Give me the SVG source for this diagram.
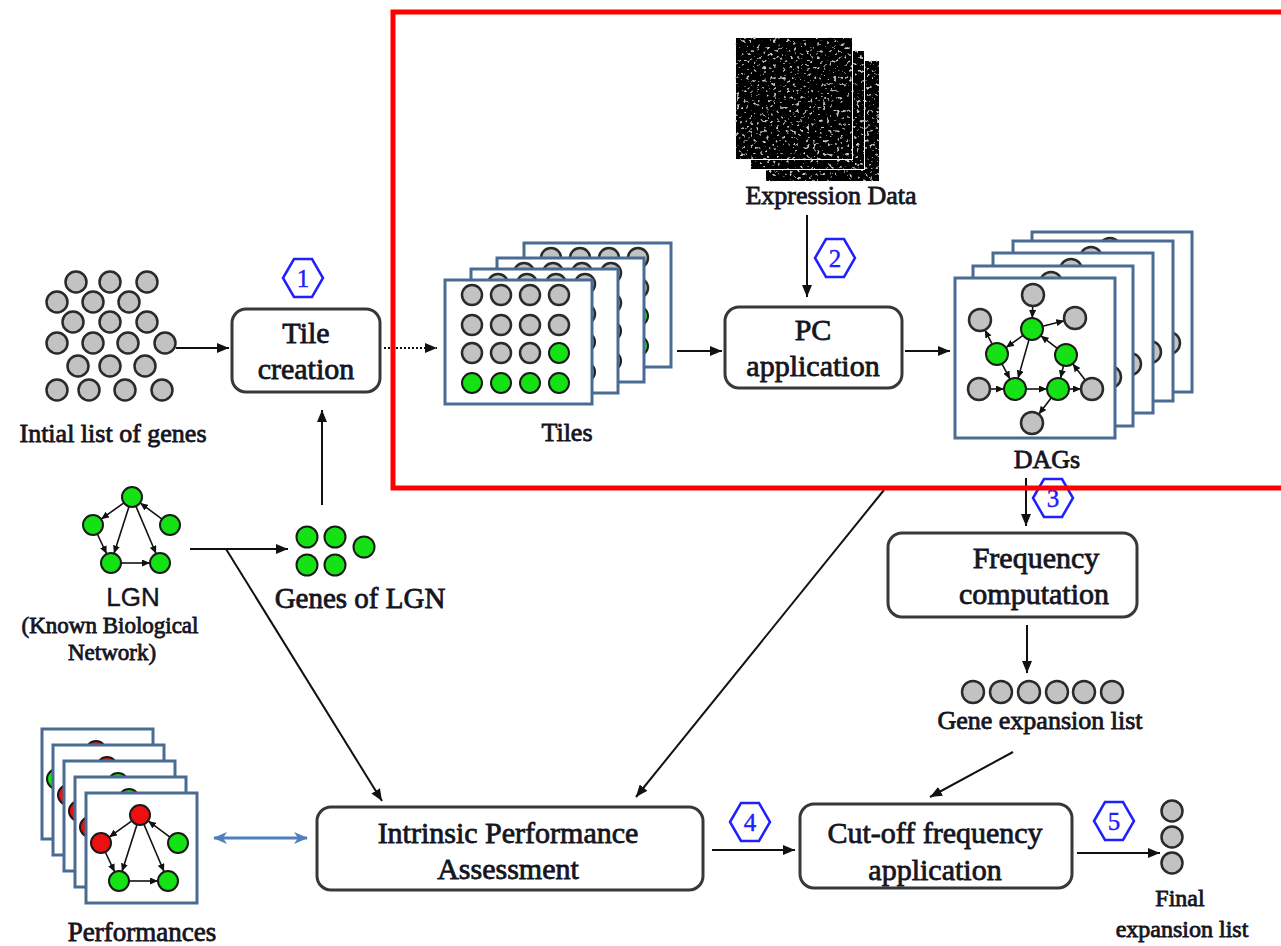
<svg xmlns="http://www.w3.org/2000/svg" xmlns:xlink="http://www.w3.org/1999/xlink" width="1281" height="946" viewBox="0 0 1281 946">
  <style>
    .box { fill:#fff; stroke:#383838; stroke-width:3; }
    .t { font-family:'Liberation Serif', Tinos, 'Times New Roman', 'DejaVu Serif', serif; fill:#15151f; stroke:#15151f; stroke-width:0.8; text-anchor:middle; }
    .bt { font-size:30px; }
    .lb { font-size:26px; }
    .sm { font-size:24px; }
    .sans { font-family:'Liberation Sans', Arial, sans-serif; stroke-width:0.4; }
    .g { fill:#c2c2c2; stroke:#2a2a2a; stroke-width:2.5; }
    .gr { fill:#14e214; stroke:#1a1a1a; stroke-width:2; }
    .rd { fill:#ee1010; stroke:#1a1a1a; stroke-width:2; }
    .hex { fill:#fff; stroke:#1f1fff; stroke-width:2.5; }
    .hn { font-family:'Liberation Serif', Tinos, 'Times New Roman', 'DejaVu Serif', serif; font-size:25px; fill:#2020ff; stroke:#2020ff; stroke-width:0.4; text-anchor:middle; }
    .tile { fill:#fff; stroke:#4a6b94; stroke-width:3; }
    .cn { stroke:#111; stroke-width:2; fill:none; }
    .ed { stroke:#111; stroke-width:1.6; fill:none; marker-end:url(#tip); }
    .dot { stroke-dasharray:2 2; }
    .blue { stroke:#4f7fbd; stroke-width:3; fill:none; }
  </style>
  <defs>
    <marker id="arr" viewBox="0 0 12 10" refX="12" refY="5" markerWidth="12" markerHeight="10" markerUnits="userSpaceOnUse" orient="auto">
      <path d="M0,0 L12,5 L0,10 z" fill="#111"/>
    </marker>
    <marker id="tip" viewBox="0 0 8 7" refX="8" refY="3.5" markerWidth="8" markerHeight="7" markerUnits="userSpaceOnUse" orient="auto">
      <path d="M0,0 L8,3.5 L0,7 z" fill="#111"/>
    </marker>
    <marker id="barr" viewBox="0 0 14 12" refX="13" refY="6" markerWidth="14" markerHeight="12" markerUnits="userSpaceOnUse" orient="auto-start-reverse">
      <path d="M0,0 L14,6 L0,12 L4,6 z" fill="#4f7fbd"/>
    </marker>
    <path id="hexagon" d="M-20,0 L-9,-19 L9,-19 L20,0 L9,19 L-9,19 z"/>
    <filter id="speckle" x="0" y="0" width="100%" height="100%">
      <feTurbulence type="fractalNoise" baseFrequency="0.3" numOctaves="2" seed="11" result="n"/>
      <feColorMatrix in="n" type="matrix" values="0 0 0 0 0.62  0 0 0 0 0.62  0 0 0 0 0.62  7 0 0 0 -4.4" result="dots"/>
      <feComposite in="dots" in2="SourceGraphic" operator="atop"/>
    </filter>
    <!-- one tile of genes: 4x4 grid, bottom rows in green -->
    <g id="tile">
      <rect class="tile" x="0" y="0" width="147" height="124"/>
      <circle class="g" cx="27" cy="15" r="10"/><circle class="g" cx="56" cy="15" r="10"/><circle class="g" cx="85" cy="15" r="10"/><circle class="g" cx="114" cy="15" r="10"/>
      <circle class="g" cx="27" cy="45" r="10"/><circle class="g" cx="56" cy="45" r="10"/><circle class="g" cx="85" cy="45" r="10"/><circle class="g" cx="114" cy="45" r="10"/>
      <circle class="g" cx="27" cy="73" r="10"/><circle class="g" cx="56" cy="73" r="10"/><circle class="g" cx="85" cy="73" r="10"/><circle class="gr" cx="114" cy="73" r="10"/>
      <circle class="gr" cx="27" cy="103" r="10"/><circle class="gr" cx="56" cy="103" r="10"/><circle class="gr" cx="85" cy="103" r="10"/><circle class="gr" cx="114" cy="103" r="10"/>
    </g>
    <!-- one learned DAG inside its frame -->
    <g id="dag">
      <rect class="tile" x="955" y="278" width="160" height="160"/>
      <line class="ed" x1="1032.7" y1="306" x2="1032.3" y2="318"/>
      <line class="ed" x1="1042.7" y1="326.3" x2="1064.3" y2="320.7"/>
      <line class="ed" x1="1023" y1="335.4" x2="1006" y2="347.6"/>
      <line class="ed" x1="992.1" y1="344.2" x2="984.9" y2="329.8"/>
      <line class="ed" x1="1029" y1="339.6" x2="1018" y2="378.4"/>
      <line class="ed" x1="1002" y1="363.8" x2="1010" y2="379.2"/>
      <line class="ed" x1="1057.3" y1="348.3" x2="1040.7" y2="335.7"/>
      <line class="ed" x1="990" y1="389" x2="1004" y2="389"/>
      <line class="ed" x1="1026" y1="389" x2="1047" y2="389"/>
      <line class="ed" x1="1069" y1="389" x2="1081" y2="389"/>
      <line class="ed" x1="1085.3" y1="380.3" x2="1072.7" y2="363.7"/>
      <line class="ed" x1="1063.5" y1="365.7" x2="1060.5" y2="378.3"/>
      <line class="ed" x1="1051.3" y1="397.7" x2="1038.7" y2="414.3"/>
      <circle class="g" cx="1033" cy="295" r="11"/>
      <circle class="g" cx="980" cy="320" r="11"/>
      <circle class="gr" cx="1032" cy="329" r="11"/>
      <circle class="g" cx="1075" cy="318" r="11"/>
      <circle class="gr" cx="997" cy="354" r="11"/>
      <circle class="gr" cx="1066" cy="355" r="11"/>
      <circle class="g" cx="979" cy="389" r="11"/>
      <circle class="gr" cx="1015" cy="389" r="11"/>
      <circle class="gr" cx="1058" cy="389" r="11"/>
      <circle class="g" cx="1092" cy="389" r="11"/>
      <circle class="g" cx="1032" cy="423" r="11"/>
    </g>
    <!-- edges of the small five-gene network -->
    <g id="net-edges">
      <line class="ed" x1="123.9" y1="502.8" x2="101.1" y2="519.2"/>
      <line class="ed" x1="162" y1="519.1" x2="140.1" y2="502.9"/>
      <line class="ed" x1="129" y1="506.5" x2="114" y2="553.5"/>
      <line class="ed" x1="135.9" y1="506.2" x2="156.1" y2="553.8"/>
      <line class="ed" x1="97.3" y1="534" x2="106.7" y2="554"/>
      <line class="ed" x1="121" y1="563" x2="150" y2="563"/>
    </g>
  </defs>

  <rect width="1281" height="946" fill="#fff"/>

  <!-- connectors -->
  <g id="connectors">
    <line class="cn" x1="176" y1="348" x2="229" y2="348" marker-end="url(#arr)"/>
    <line class="cn dot" x1="384" y1="348" x2="437" y2="348" marker-end="url(#arr)"/>
    <line class="cn" x1="677" y1="351" x2="722" y2="351" marker-end="url(#arr)"/>
    <line class="cn" x1="905" y1="351" x2="950" y2="351" marker-end="url(#arr)"/>
    <line class="cn" x1="807" y1="215" x2="807" y2="297" marker-end="url(#arr)"/>
    <line class="cn" x1="322" y1="505" x2="322" y2="410" marker-end="url(#arr)"/>
    <line class="cn" x1="190" y1="549" x2="288" y2="549" marker-end="url(#arr)"/>
    <line class="cn" x1="226" y1="549" x2="382" y2="801" marker-end="url(#arr)"/>
    <line class="cn" x1="884" y1="490" x2="636" y2="797" marker-end="url(#arr)"/>
    <line class="cn" x1="1026" y1="478" x2="1026" y2="526" marker-end="url(#arr)"/>
    <line class="cn" x1="1027" y1="625" x2="1027" y2="673" marker-end="url(#arr)"/>
    <line class="cn" x1="1013" y1="752" x2="930" y2="797" marker-end="url(#arr)"/>
    <line class="cn" x1="712" y1="850" x2="795" y2="850" marker-end="url(#arr)"/>
    <line class="cn" x1="1077" y1="853" x2="1160" y2="853" marker-end="url(#arr)"/>
    <line class="blue" x1="214" y1="838" x2="307" y2="838" marker-start="url(#barr)" marker-end="url(#barr)"/>
  </g>

  <!-- initial list of genes -->
  <g id="initial-genes">
    <circle class="g" cx="76" cy="282" r="10.5"/><circle class="g" cx="110" cy="282" r="10.5"/><circle class="g" cx="147" cy="282" r="10.5"/>
    <circle class="g" cx="57" cy="302" r="10.5"/><circle class="g" cx="93" cy="302" r="10.5"/><circle class="g" cx="129" cy="302" r="10.5"/>
    <circle class="g" cx="73" cy="322" r="10.5"/><circle class="g" cx="110" cy="322" r="10.5"/><circle class="g" cx="147" cy="322" r="10.5"/>
    <circle class="g" cx="57" cy="343" r="10.5"/><circle class="g" cx="93" cy="343" r="10.5"/><circle class="g" cx="128" cy="343" r="10.5"/><circle class="g" cx="165" cy="343" r="10.5"/>
    <circle class="g" cx="78" cy="366" r="10.5"/><circle class="g" cx="110" cy="366" r="10.5"/><circle class="g" cx="145" cy="366" r="10.5"/>
    <circle class="g" cx="57" cy="390" r="10.5"/><circle class="g" cx="89" cy="390" r="10.5"/><circle class="g" cx="125" cy="390" r="10.5"/><circle class="g" cx="162" cy="390" r="10.5"/>
    <text class="t lb" x="113" y="442">Intial list of genes</text>
  </g>

  <!-- step 1: tile creation -->
  <g id="tile-creation">
    <rect class="box" x="232" y="309" width="148" height="83" rx="14"/>
    <text class="t bt" x="306" y="343">Tile</text>
    <text class="t bt" x="306" y="379">creation</text>
  </g>
  <g id="step1">
    <use xlink:href="#hexagon" class="hex" x="303" y="278"/>
    <text class="hn" x="303" y="287">1</text>
  </g>

  <!-- known network (LGN) -->
  <g id="lgn">
    <use xlink:href="#net-edges"/>
    <circle class="gr" cx="132" cy="497" r="10"/>
    <circle class="gr" cx="93" cy="525" r="10"/>
    <circle class="gr" cx="170" cy="525" r="10"/>
    <circle class="gr" cx="111" cy="563" r="10"/>
    <circle class="gr" cx="160" cy="563" r="10"/>
    <text class="t sans" x="133" y="606" font-size="26">LGN</text>
    <text class="t" x="110" y="633" font-size="23">(Known Biological</text>
    <text class="t" x="112" y="660" font-size="23">Network)</text>
  </g>

  <!-- genes of the LGN -->
  <g id="lgn-genes">
    <circle class="gr" cx="307" cy="537" r="10.5"/>
    <circle class="gr" cx="335" cy="537" r="10.5"/>
    <circle class="gr" cx="364" cy="547" r="10.5"/>
    <circle class="gr" cx="307" cy="565" r="10.5"/>
    <circle class="gr" cx="335" cy="565" r="10.5"/>
    <text class="t" x="360" y="608" font-size="29">Genes of LGN</text>
  </g>

  <!-- expression data -->
  <g id="expression-data">
    <rect x="765" y="60" width="115" height="122" fill="#000" stroke="#fff" stroke-width="2" filter="url(#speckle)"/>
    <rect x="750" y="50" width="115" height="120" fill="#000" stroke="#fff" stroke-width="2" filter="url(#speckle)"/>
    <rect x="735" y="37" width="118" height="123" fill="#000" stroke="#fff" stroke-width="2" filter="url(#speckle)"/>
    <text class="t lb" x="831" y="204">Expression Data</text>
  </g>
  <g id="step2">
    <use xlink:href="#hexagon" class="hex" x="835" y="258"/>
    <text class="hn" x="835" y="267">2</text>
  </g>

  <!-- tiles -->
  <g id="tiles">
    <use xlink:href="#tile" x="524" y="243"/>
    <use xlink:href="#tile" x="497" y="258"/>
    <use xlink:href="#tile" x="471" y="269"/>
    <use xlink:href="#tile" x="445" y="280"/>
    <text class="t lb" x="567" y="441">Tiles</text>
  </g>

  <!-- PC application -->
  <g id="pc-application">
    <rect class="box" x="725" y="307" width="177" height="81" rx="14"/>
    <text class="t bt" x="813" y="340">PC</text>
    <text class="t bt" x="813" y="376">application</text>
  </g>

  <!-- DAGs -->
  <g id="dags">
    <use xlink:href="#dag" x="77" y="-46"/>
    <use xlink:href="#dag" x="58" y="-37"/>
    <use xlink:href="#dag" x="38" y="-25"/>
    <use xlink:href="#dag" x="18" y="-12"/>
    <use xlink:href="#dag"/>
    <text class="t lb" x="1047" y="468">DAGs</text>
  </g>

  <g id="step3">
    <use xlink:href="#hexagon" class="hex" x="1053" y="498"/>
    <text class="hn" x="1053" y="507">3</text>
  </g>

  <!-- parallel section frame -->
  <rect id="frame" x="393" y="12" width="900" height="476" fill="none" stroke="#ff0000" stroke-width="5"/>

  <!-- frequency computation -->
  <g id="frequency-computation">
    <rect class="box" x="888" y="533" width="249" height="84" rx="14"/>
    <text class="t bt" x="1036" y="568">Frequency</text>
    <text class="t bt" x="1034" y="604">computation</text>
  </g>

  <!-- gene expansion list -->
  <g id="gene-expansion-list">
    <circle class="g" cx="973" cy="692" r="11"/>
    <circle class="g" cx="1001" cy="692" r="11"/>
    <circle class="g" cx="1029" cy="692" r="11"/>
    <circle class="g" cx="1057" cy="692" r="11"/>
    <circle class="g" cx="1084" cy="692" r="11"/>
    <circle class="g" cx="1112" cy="692" r="11"/>
    <text class="t lb" x="1040" y="729">Gene expansion list</text>
  </g>

  <!-- performances -->
  <g id="performances">
    <g transform="translate(-44,-64)">
      <rect class="tile" x="86" y="793" width="111" height="110"/>
      <use xlink:href="#net-edges" transform="translate(8,318)"/>
      <circle class="rd" cx="140" cy="815" r="10"/><circle class="gr" cx="101" cy="843" r="10"/><circle class="gr" cx="178" cy="843" r="10"/><circle class="gr" cx="119" cy="881" r="10"/><circle class="gr" cx="168" cy="881" r="10"/>
    </g>
    <g transform="translate(-33,-48)">
      <rect class="tile" x="86" y="793" width="111" height="110"/>
      <use xlink:href="#net-edges" transform="translate(8,318)"/>
      <circle class="rd" cx="140" cy="815" r="10"/><circle class="rd" cx="101" cy="843" r="10"/><circle class="gr" cx="178" cy="843" r="10"/><circle class="gr" cx="119" cy="881" r="10"/><circle class="gr" cx="168" cy="881" r="10"/>
    </g>
    <g transform="translate(-22,-32)">
      <rect class="tile" x="86" y="793" width="111" height="110"/>
      <use xlink:href="#net-edges" transform="translate(8,318)"/>
      <circle class="gr" cx="140" cy="815" r="10"/><circle class="rd" cx="101" cy="843" r="10"/><circle class="gr" cx="178" cy="843" r="10"/><circle class="gr" cx="119" cy="881" r="10"/><circle class="gr" cx="168" cy="881" r="10"/>
    </g>
    <g transform="translate(-11,-16)">
      <rect class="tile" x="86" y="793" width="111" height="110"/>
      <use xlink:href="#net-edges" transform="translate(8,318)"/>
      <circle class="gr" cx="140" cy="815" r="10"/><circle class="rd" cx="101" cy="843" r="10"/><circle class="gr" cx="178" cy="843" r="10"/><circle class="gr" cx="119" cy="881" r="10"/><circle class="gr" cx="168" cy="881" r="10"/>
    </g>
    <g>
      <rect class="tile" x="86" y="793" width="111" height="110"/>
      <use xlink:href="#net-edges" transform="translate(8,318)"/>
      <circle class="rd" cx="140" cy="815" r="10"/><circle class="rd" cx="101" cy="843" r="10"/><circle class="gr" cx="178" cy="843" r="10"/><circle class="gr" cx="119" cy="881" r="10"/><circle class="gr" cx="168" cy="881" r="10"/>
    </g>
    <text class="t" x="142" y="941" font-size="27">Performances</text>
  </g>

  <!-- intrinsic performance assessment -->
  <g id="intrinsic-assessment">
    <rect class="box" x="317" y="807" width="386" height="83" rx="14"/>
    <text class="t bt" x="508" y="843">Intrinsic Performance</text>
    <text class="t bt" x="508" y="879">Assessment</text>
  </g>
  <g id="step4">
    <use xlink:href="#hexagon" class="hex" x="750" y="822"/>
    <text class="hn" x="750" y="831">4</text>
  </g>

  <!-- cut-off frequency application -->
  <g id="cutoff-application">
    <rect class="box" x="800" y="804" width="272" height="84" rx="14"/>
    <text class="t bt" x="935" y="843">Cut-off frequency</text>
    <text class="t bt" x="935" y="880">application</text>
  </g>
  <g id="step5">
    <use xlink:href="#hexagon" class="hex" x="1114" y="821"/>
    <text class="hn" x="1114" y="830">5</text>
  </g>

  <!-- final expansion list -->
  <g id="final-list">
    <circle class="g" cx="1172" cy="811" r="10.5"/>
    <circle class="g" cx="1172" cy="837" r="10.5"/>
    <circle class="g" cx="1172" cy="863" r="10.5"/>
    <text class="t sm" x="1180" y="906">Final</text>
    <text class="t sm" x="1182" y="937">expansion list</text>
  </g>
</svg>
